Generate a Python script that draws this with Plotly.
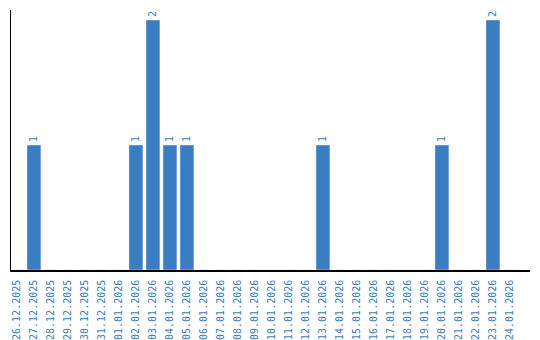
import plotly.graph_objects as go

dates = ["26.12.2025", "27.12.2025", "28.12.2025", "29.12.2025", "30.12.2025", "31.12.2025",
         "01.01.2026", "02.01.2026", "03.01.2026", "04.01.2026", "05.01.2026", "06.01.2026",
         "07.01.2026", "08.01.2026", "09.01.2026", "10.01.2026", "11.01.2026", "12.01.2026",
         "13.01.2026", "14.01.2026", "15.01.2026", "16.01.2026", "17.01.2026", "18.01.2026",
         "19.01.2026", "20.01.2026", "21.01.2026", "22.01.2026", "23.01.2026", "24.01.2026"]
counts = [0, 1, 0, 0, 0, 0,
          0, 1, 2, 1, 1, 0,
          0, 0, 0, 0, 0, 0,
          1, 0, 0, 0, 0, 0,
          0, 1, 0, 0, 2, 0]

blue = "#3a7dc2"
labels = [str(v) if v else "" for v in counts]

fig = go.Figure(go.Bar(
    x=dates, y=counts, marker_color=blue, width=0.82,
    text=labels, textposition="outside", textangle=-90,
    textfont=dict(family="DejaVu Sans Mono", size=10, color=blue),
    cliponaxis=False,
))
fig.update_layout(
    width=540, height=340, margin=dict(l=11, r=10, t=10, b=70, autoexpand=False),
    plot_bgcolor="white", paper_bgcolor="white", showlegend=False,
    bargap=0.18,
)
fig.update_xaxes(
    range=[-0.35, 30.18], tickangle=-90, showline=True, linecolor="black", linewidth=1.5,
    ticks="", showgrid=False, automargin=False, ticklabelstandoff=4,
    tickfont=dict(family="DejaVu Sans Mono", size=10, color=blue),
)
fig.update_yaxes(
    range=[0, 2.08], showline=True, linecolor="black", linewidth=1,
    showticklabels=False, ticks="", showgrid=False, zeroline=False, automargin=False,
)
fig.write_html("out.html")
